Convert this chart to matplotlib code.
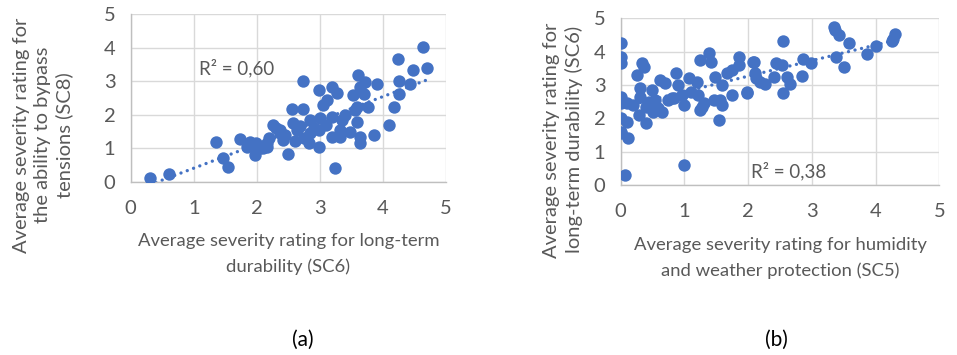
import matplotlib
matplotlib.use("Agg")
import matplotlib.pyplot as plt
import numpy as np

# (a) SC6 vs SC8
sc6_a = [0.30, 0.60, 1.36, 1.47, 1.55, 1.73, 1.89, 1.98, 1.84, 1.97, 2.10, 2.16, 2.02,
         2.26, 2.31, 2.37, 2.42, 2.16, 2.05, 2.50, 2.37, 2.63, 2.58, 2.55, 2.73, 2.74,
         2.82, 2.84, 2.98, 2.98, 2.98, 3.00, 3.05, 3.11, 3.19, 3.19, 3.27, 3.19, 3.32,
         3.32, 3.35, 3.48, 3.24, 2.73, 3.53, 3.55, 3.58, 3.58, 3.60, 3.64, 3.64, 3.64,
         3.72, 3.77, 3.86, 3.90, 4.09, 4.17, 4.26, 4.26, 4.24, 4.43, 4.47, 4.64, 4.70,
         2.20, 2.45, 2.68, 2.90, 3.10, 3.40, 3.70, 2.60, 2.85]
sc8_a = [0.10, 0.23, 1.17, 0.70, 0.43, 1.26, 1.19, 1.14, 1.04, 0.80, 0.99, 1.04, 0.99,
         1.69, 1.59, 1.44, 1.24, 1.14, 1.00, 0.83, 1.54, 1.54, 1.74, 2.16, 2.16, 1.29,
         1.14, 1.84, 1.54, 1.03, 2.73, 1.89, 2.29, 2.44, 2.83, 1.94, 2.63, 1.34, 1.54,
         1.34, 1.84, 1.49, 0.40, 3.01, 2.59, 2.14, 2.24, 1.79, 3.18, 2.83, 1.34, 1.14,
         2.98, 2.24, 1.40, 2.91, 1.68, 2.22, 3.00, 2.61, 3.65, 2.91, 3.33, 4.01, 3.40,
         1.30, 1.40, 1.65, 1.60, 1.70, 2.00, 2.60, 1.20, 1.45]

# (b) SC5 vs SC6
sc5_b = [0.00, 0.00, 0.00, 0.33, 0.36, 0.26, 0.00, 0.00, 0.10, 0.00, 0.10, 0.00, 0.00,
         0.11, 0.07, 0.99, 0.31, 0.31, 0.39, 0.39, 0.28, 0.49, 0.54, 0.62, 0.70, 0.65,
         0.75, 0.83, 0.86, 0.99, 0.96, 1.07, 1.20, 1.22, 1.25, 1.38, 1.41, 1.25, 1.27,
         1.48, 1.46, 1.56, 1.59, 1.54, 1.59, 1.67, 1.75, 1.75, 1.85, 1.85, 1.98, 2.09,
         2.13, 3.34, 3.37, 3.43, 3.59, 2.54, 4.30, 4.28, 4.25, 4.00, 3.86, 3.38, 3.50,
         2.86, 2.99, 2.44, 2.53, 2.08, 2.11, 2.18, 2.26, 2.41, 2.61, 2.65, 2.85, 1.98,
         2.54, 0.45, 0.58, 0.80, 1.10, 0.20, 0.50, 0.90, 1.30]
sc6_b = [4.25, 3.85, 3.65, 3.65, 3.55, 3.30, 2.65, 2.45, 2.45, 2.00, 1.90, 1.60, 1.55,
         1.40, 0.30, 0.60, 2.90, 2.65, 2.35, 1.85, 2.10, 2.85, 2.55, 3.15, 3.05, 2.20,
         2.55, 2.60, 3.35, 2.40, 2.70, 3.20, 3.10, 2.70, 3.75, 3.95, 3.70, 2.25, 2.35,
         3.25, 2.55, 2.55, 2.40, 1.95, 3.00, 3.35, 2.70, 3.45, 3.85, 3.60, 2.80, 3.70,
         3.20, 4.75, 4.65, 4.50, 4.27, 4.33, 4.53, 4.37, 4.33, 4.17, 3.92, 3.85, 3.53,
         3.77, 3.67, 3.65, 3.60, 3.68, 3.35, 3.10, 3.03, 3.25, 3.25, 3.02, 3.27, 2.77,
         2.75, 2.50, 2.30, 2.60, 2.80, 2.40, 2.20, 3.00, 2.45]

r2_a = "0,60"
r2_b = "0,38"
ticks = [0, 1, 2, 3, 4, 5]

blue = "#4472C4"
gray_text = "#595959"

plt.rcParams["font.family"] = ["Lato", "DejaVu Sans"]

fig = plt.figure(figsize=(9.57, 3.55), dpi=100)
ax_a = fig.add_axes([0.1366, 0.4882, 0.3295, 0.4724])
ax_b = fig.add_axes([0.6486, 0.4789, 0.3329, 0.4696])


def panel(ax, x, y, r2, r2_pos):
    x = np.array(x)
    y = np.array(y)
    ax.scatter(x, y, s=80, color=blue, zorder=3, linewidths=0)
    # linear trendline, dotted
    k, b = np.polyfit(x, y, 1)
    xs = np.linspace(x.min(), x.max(), 50)
    ax.plot(xs, k * xs + b, color=blue, lw=2.4, linestyle=(0, (0.01, 2.0)),
            zorder=2, dash_capstyle="round")
    ax.text(r2_pos[0], r2_pos[1], "R² = " + r2, fontsize=13.5, color=gray_text,
            va="center", zorder=4)
    ax.set_xlim(0, 5)
    ax.set_ylim(0, 5)
    ax.set_xticks(ticks)
    ax.set_yticks(ticks)
    ax.grid(True, color="#D9D9D9", lw=1)
    ax.set_axisbelow(True)
    for side in ["top", "right"]:
        ax.spines[side].set_visible(False)
    for side in ["left", "bottom"]:
        ax.spines[side].set_color("#BFBFBF")
        ax.spines[side].set_linewidth(1)
    ax.tick_params(length=0, labelsize=14.5, colors=gray_text)
    ax.tick_params(axis="x", pad=13)
    ax.tick_params(axis="y", pad=11)


panel(ax_a, sc6_a, sc8_a, r2_a, (1.08, 3.4))
panel(ax_b, sc5_b, sc6_b, r2_b, (2.05, 0.42))

ax_a.set_xlabel("Average severity rating for long-term\ndurability (SC6)",
                fontsize=13.3, color=gray_text, labelpad=12, linespacing=1.7)
ax_b.set_xlabel("Average severity rating for humidity\nand weather protection (SC5)",
                fontsize=13.3, color=gray_text, labelpad=12, linespacing=1.7)

fig.text(0.045, 0.62, "Average severity rating for\nthe ability to bypass\ntensions (SC8)",
         rotation=90, ha="center", va="center", fontsize=14.5, color=gray_text,
         linespacing=1.3)
fig.text(0.588, 0.606, "Average severity rating for\nlong-term durability (SC6)",
         rotation=90, ha="center", va="center", fontsize=14.5, color=gray_text,
         linespacing=1.3)

fig.text(303 / 957, 1 - 340 / 355, "(a)", ha="center", va="center", fontsize=15, color="#000000")
fig.text(776 / 957, 1 - 340 / 355, "(b)", ha="center", va="center", fontsize=15, color="#000000")

fig.savefig("out.png", dpi=100)
